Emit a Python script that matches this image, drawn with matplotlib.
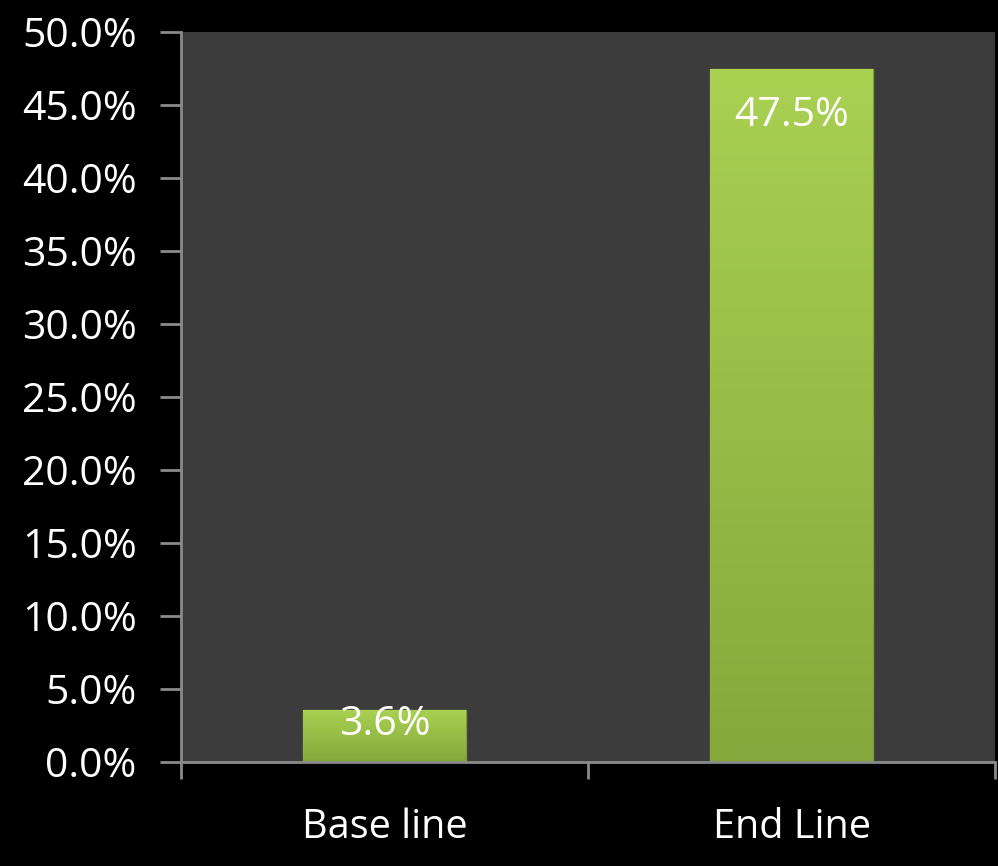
import matplotlib
matplotlib.use("Agg")
import matplotlib.pyplot as plt
import numpy as np
from matplotlib.ticker import FuncFormatter, MultipleLocator
from matplotlib.colors import LinearSegmentedColormap

categories = ["Base line", "End Line"]
values = [3.6, 47.5]
value_labels = ["3.6%", "47.5%"]

plt.rcParams['font.family'] = ['Open Sans', 'DejaVu Sans']

fig = plt.figure(figsize=(9.98, 8.66), dpi=100, facecolor='black')
ax = fig.add_axes([0.1814, 0.120, 0.8156, 0.843])
ax.set_facecolor('#3c3c3c')

x = np.arange(len(categories))
bar_w = 0.4
bars = ax.bar(x, values, width=bar_w, color='#9dc44a', edgecolor='#7e9c36', linewidth=1.0, zorder=2)

cmap = LinearSegmentedColormap.from_list('g', ['#86a83c', '#a9d152'])
grad = np.linspace(0, 1, 256).reshape(-1, 1)
for b in bars:
    x0, y0 = b.get_x(), b.get_y()
    w, h = b.get_width(), b.get_height()
    im = ax.imshow(grad, extent=[x0, x0 + w, y0, y0 + h], origin='lower',
                   cmap=cmap, aspect='auto', zorder=2.5)
    im.set_clip_path(b)

ax.set_xlim(-0.5, len(categories) - 0.5)
ax.set_ylim(0, 50)

# bar height in pixels to decide label placement
fig.canvas.draw()
for b, lab in zip(bars, value_labels):
    top_px = ax.transData.transform((0, b.get_height()))[1]
    base_px = ax.transData.transform((0, 0))[1]
    hpx = top_px - base_px
    off = -47 if hpx > 100 else -15
    ax.annotate(lab, (b.get_x() + b.get_width() / 2, b.get_height()),
                xytext=(0, off * 0.72), textcoords='offset points', ha='center', va='center',
                color='white', fontsize=29.5, zorder=3)

ax.yaxis.set_major_locator(MultipleLocator(5))
ax.yaxis.set_major_formatter(FuncFormatter(lambda v, p: f"{v:.1f}%"))
ax.set_xticks(x)
ax.set_xticklabels(categories)
ax.set_xticks(np.arange(-0.5, len(categories), 1.0), minor=True)
ax.tick_params(axis='x', which='major', length=0, pad=33, labelsize=28.5, colors='white')
ax.tick_params(axis='x', which='minor', length=12, width=2, color='#8a8a8a')
ax.tick_params(axis='y', length=15, width=2, color='#8a8a8a', labelsize=29.5, labelcolor='white', pad=17)

for s in ['top', 'right']:
    ax.spines[s].set_visible(False)
for s in ['left', 'bottom']:
    ax.spines[s].set_color('#8a8a8a')
    ax.spines[s].set_linewidth(2)

fig.savefig('out.png', dpi=100, facecolor='black')
